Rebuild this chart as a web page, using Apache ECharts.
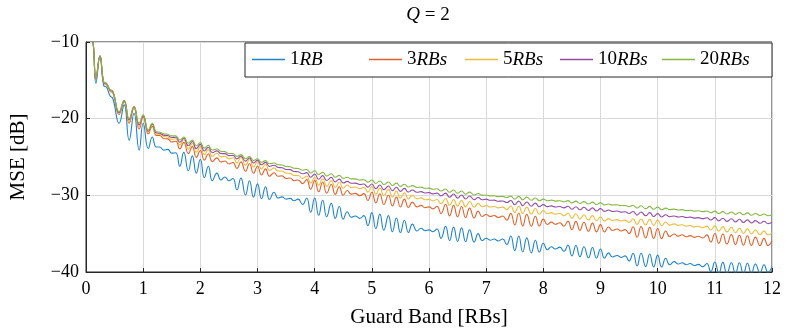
<!DOCTYPE html>
<html>
<head>
<meta charset="utf-8">
<script src="https://cdn.jsdelivr.net/npm/echarts@6/dist/echarts.min.js"></script>
<style>
  html, body { margin: 0; padding: 0; background: #fff; }
  #chart { width: 789px; height: 334px; }
</style>
</head>
<body>
<div id="chart"></div>
<script>
// guard band positions (RBs)
var guardBand = [
  0, 0.07, 0.13, 0.174, 0.244, 0.31, 0.36, 0.42, 0.47, 0.58, 0.667, 0.755, 0.84, 0.93, 1.0, 1.09, 1.16, 1.23,
  1.29, 1.36, 1.43, 1.5, 1.57, 1.64, 1.71, 1.79, 1.86, 1.93,
  2, 2.07, 2.14, 2.21, 2.29, 2.36, 2.43, 2.5, 2.57, 2.64, 2.71, 2.79, 2.86, 2.93,
  3, 3.07, 3.14, 3.21, 3.29, 3.36, 3.43, 3.5, 3.57, 3.64, 3.71, 3.79, 3.86, 3.93,
  4, 4.07, 4.14, 4.21, 4.29, 4.36, 4.43, 4.5, 4.57, 4.64, 4.71, 4.79, 4.86, 4.93,
  5, 5.07, 5.14, 5.21, 5.29, 5.36, 5.43, 5.5, 5.57, 5.64, 5.71, 5.79, 5.86, 5.93,
  6, 6.07, 6.14, 6.21, 6.29, 6.36, 6.43, 6.5, 6.57, 6.64, 6.71, 6.79, 6.86, 6.93,
  7, 7.07, 7.14, 7.21, 7.29, 7.36, 7.43, 7.5, 7.57, 7.64, 7.71, 7.79, 7.86, 7.93,
  8, 8.07, 8.14, 8.21, 8.29, 8.36, 8.43, 8.5, 8.57, 8.64, 8.71, 8.79, 8.86, 8.93,
  9, 9.07, 9.14, 9.21, 9.29, 9.36, 9.43, 9.5, 9.57, 9.64, 9.71, 9.79, 9.86, 9.93,
  10, 10.07, 10.14, 10.21, 10.29, 10.36, 10.43, 10.5, 10.57, 10.64, 10.71, 10.79, 10.86, 10.93,
  11, 11.07, 11.14, 11.21, 11.29, 11.36, 11.43, 11.5, 11.57, 11.64, 11.71, 11.79, 11.86, 11.93,
  12
];

// MSE [dB], 1 RB
var mse1 = [
  -3, -6.5, -10.5, -15.4, -11.9, -15.7, -15.9, -17.0, -17.4, -20.6, -18.2, -22.8, -19.3, -24.1, -20.6, -23.9, -22.4, -23.7,
  -23.7, -24.1, -24.0, -24.5, -24.45, -26.2, -24.4, -26.8, -24.85, -27.1,
  -25.3, -27.7, -26.2, -28.1, -27.1, -28.0, -27.6, -28.1, -27.8, -29.3, -27.75, -29.95, -28.1, -30.25,
  -28.5, -30.45, -28.9, -30.55, -29.6, -30.35, -30.2, -30.5, -30.4, -30.7, -30.5, -31.2, -30.35, -32.2,
  -30.35, -32.6, -30.65, -32.8, -31.05, -33.0, -31.45, -33.1, -32.15, -32.85, -32.7, -33.0, -32.65, -33.95,
  -32.25, -34.35, -32.45, -34.55, -32.65, -34.75, -32.95, -34.85, -33.25, -34.85, -33.75, -34.65, -34.3, -34.6,
  -34.5, -34.75, -34.4, -35.6, -34.05, -35.9, -34.15, -36.0, -34.25, -36.05, -34.5, -36.1, -35.0, -35.9,
  -35.6, -35.85, -35.7, -35.95, -35.7, -36.4, -35.3, -37.2, -35.3, -37.4, -35.55, -37.5, -35.85, -37.4,
  -36.25, -37.1, -36.7, -37.0, -36.75, -37.3, -36.5, -37.9, -36.55, -38.0, -36.7, -38.15, -36.8, -38.2,
  -37.0, -38.2, -37.5, -38.05, -37.85, -38.1, -37.9, -38.55, -37.55, -39.2, -37.55, -39.3, -37.65, -39.35,
  -37.8, -39.35, -38.2, -39.05, -38.65, -38.95, -38.8, -39.05, -38.9, -39.15, -39.0, -39.3, -38.9, -39.95,
  -38.7, -40.15, -38.75, -40.2, -38.8, -40.2, -38.8, -40.25, -38.85, -40.2, -38.95, -40.15, -39.05, -40.05,
  -39.3
];

// 3 RBs
var mse3 = [
  -3, -6.5, -10.5, -14.9, -11.85, -15.35, -15.55, -16.4, -16.65, -19.45, -17.8, -20.6, -18.65, -21.35, -19.8, -22.0, -21.0, -22.2,
  -22.20, -22.61, -22.63, -23.05, -22.94, -23.94, -23.09, -24.55, -23.65, -25.05,
  -24.15, -25.41, -24.57, -25.61, -25.11, -25.66, -25.53, -25.91, -25.71, -26.50, -25.64, -26.86, -25.89, -27.12,
  -26.20, -27.34, -26.55, -27.52, -27.05, -27.51, -27.46, -27.80, -27.74, -28.09, -28.00, -28.47, -27.95, -29.21,
  -28.05, -29.54, -28.29, -29.71, -28.58, -29.88, -28.89, -29.99, -29.37, -29.84, -29.74, -30.04, -29.78, -30.67,
  -29.60, -30.99, -29.79, -31.19, -29.99, -31.38, -30.24, -31.52, -30.50, -31.58, -30.88, -31.51, -31.31, -31.61,
  -31.50, -31.77, -31.42, -32.37, -31.17, -32.68, -31.31, -32.82, -31.45, -32.92, -31.67, -32.95, -32.06, -32.77,
  -32.50, -32.76, -32.63, -32.89, -32.70, -33.24, -32.35, -33.85, -32.31, -33.98, -32.48, -34.03, -32.73, -34.00,
  -33.10, -33.80, -33.49, -33.77, -33.57, -34.03, -33.36, -34.46, -33.40, -34.57, -33.51, -34.69, -33.63, -34.76,
  -33.82, -34.78, -34.14, -34.58, -34.40, -34.65, -34.47, -34.99, -34.10, -35.47, -34.08, -35.57, -34.18, -35.63,
  -34.32, -35.65, -34.65, -35.39, -35.04, -35.32, -35.15, -35.40, -35.25, -35.48, -35.33, -35.57, -35.16, -36.09,
  -34.97, -36.27, -35.05, -36.35, -35.12, -36.42, -35.20, -36.50, -35.28, -36.54, -35.45, -36.56, -35.61, -36.55,
  -35.93
];

// 5 RBs
var mse5 = [
  -3, -6.5, -10.5, -14.8, -11.85, -15.3, -15.5, -16.3, -16.55, -19.3, -17.7, -20.35, -18.55, -21.0, -19.65, -21.8, -20.8, -22.0,
  -22.05, -22.32, -22.40, -22.70, -22.62, -23.44, -22.75, -23.97, -23.23, -24.39,
  -23.65, -24.70, -24.04, -24.91, -24.52, -24.99, -24.91, -25.24, -25.09, -25.76, -25.07, -26.08, -25.30, -26.33,
  -25.59, -26.56, -25.94, -26.77, -26.42, -26.83, -26.83, -27.12, -27.13, -27.42, -27.41, -27.79, -27.48, -28.40,
  -27.65, -28.69, -27.84, -28.83, -28.06, -28.97, -28.30, -29.07, -28.65, -28.99, -28.92, -29.13, -28.96, -29.58,
  -28.85, -29.84, -29.04, -30.03, -29.22, -30.21, -29.45, -30.36, -29.68, -30.46, -30.00, -30.46, -30.33, -30.58,
  -30.53, -30.72, -30.54, -31.09, -30.42, -31.29, -30.54, -31.41, -30.64, -31.50, -30.81, -31.55, -31.05, -31.49,
  -31.33, -31.52, -31.45, -31.64, -31.54, -31.86, -31.39, -32.25, -31.40, -32.37, -31.54, -32.44, -31.72, -32.47,
  -31.97, -32.41, -32.25, -32.47, -32.36, -32.66, -32.31, -32.97, -32.40, -33.10, -32.53, -33.22, -32.65, -33.32,
  -32.83, -33.36, -33.04, -33.29, -33.17, -33.34, -33.24, -33.53, -33.06, -33.81, -33.08, -33.87, -33.14, -33.93,
  -33.24, -33.97, -33.47, -33.89, -33.72, -33.92, -33.83, -34.02, -33.93, -34.12, -34.03, -34.22, -34.02, -34.52,
  -33.98, -34.67, -34.08, -34.77, -34.18, -34.87, -34.28, -34.97, -34.38, -35.04, -34.53, -35.12, -34.67, -35.18,
  -34.86
];

// 10 RBs
var mse10 = [
  -3, -6.5, -10.5, -14.75, -11.8, -15.25, -15.45, -16.25, -16.45, -19.2, -17.65, -20.15, -18.45, -20.8, -19.6, -21.65, -20.7, -21.85,
  -21.90, -22.15, -22.20, -22.46, -22.42, -23.08, -22.56, -23.54, -22.98, -23.91,
  -23.35, -24.21, -23.72, -24.44, -24.20, -24.55, -24.56, -24.82, -24.79, -25.24, -24.88, -25.54, -25.12, -25.79,
  -25.41, -26.02, -25.70, -26.23, -26.07, -26.36, -26.40, -26.63, -26.65, -26.89, -26.92, -27.19, -27.04, -27.64,
  -27.23, -27.90, -27.43, -28.07, -27.66, -28.24, -27.88, -28.39, -28.18, -28.42, -28.41, -28.59, -28.52, -28.93,
  -28.53, -29.13, -28.66, -29.26, -28.79, -29.39, -28.95, -29.49, -29.09, -29.57, -29.30, -29.59, -29.52, -29.69,
  -29.65, -29.81, -29.71, -30.07, -29.71, -30.25, -29.83, -30.37, -29.95, -30.48, -30.09, -30.56, -30.29, -30.57,
  -30.50, -30.65, -30.62, -30.77, -30.73, -30.94, -30.68, -31.22, -30.73, -31.34, -30.86, -31.42, -31.01, -31.49,
  -31.21, -31.47, -31.38, -31.52, -31.46, -31.63, -31.42, -31.82, -31.48, -31.89, -31.56, -31.97, -31.63, -32.04,
  -31.74, -32.09, -31.92, -32.10, -32.04, -32.19, -32.15, -32.36, -32.10, -32.58, -32.17, -32.67, -32.26, -32.77,
  -32.38, -32.83, -32.53, -32.79, -32.69, -32.83, -32.76, -32.90, -32.84, -32.97, -32.91, -33.04, -32.92, -33.22,
  -32.91, -33.33, -32.98, -33.40, -33.05, -33.47, -33.12, -33.54, -33.20, -33.60, -33.30, -33.65, -33.39, -33.70,
  -33.52
];

// 20 RBs
var mse20 = [
  -3, -6.5, -10.5, -14.7, -11.8, -15.2, -15.4, -16.2, -16.4, -19.1, -17.6, -20.0, -18.4, -20.6, -19.5, -21.5, -20.6, -21.7,
  -21.76, -21.97, -22.03, -22.25, -22.24, -22.79, -22.40, -23.20, -22.78, -23.54,
  -23.12, -23.84, -23.49, -24.09, -23.95, -24.25, -24.30, -24.54, -24.55, -24.92, -24.69, -25.21, -24.94, -25.47,
  -25.22, -25.69, -25.47, -25.88, -25.78, -26.01, -26.05, -26.24, -26.27, -26.47, -26.50, -26.72, -26.63, -27.09,
  -26.80, -27.31, -26.99, -27.48, -27.19, -27.64, -27.40, -27.79, -27.65, -27.85, -27.85, -28.00, -27.96, -28.28,
  -28.00, -28.46, -28.13, -28.59, -28.26, -28.72, -28.41, -28.83, -28.55, -28.92, -28.74, -28.97, -28.93, -29.08,
  -29.06, -29.20, -29.15, -29.43, -29.18, -29.60, -29.31, -29.73, -29.43, -29.85, -29.58, -29.95, -29.77, -30.00,
  -29.96, -30.08, -30.05, -30.17, -30.13, -30.29, -30.10, -30.50, -30.14, -30.59, -30.24, -30.65, -30.35, -30.70,
  -30.50, -30.70, -30.63, -30.75, -30.70, -30.84, -30.69, -30.99, -30.75, -31.06, -30.82, -31.13, -30.89, -31.19,
  -30.98, -31.24, -31.13, -31.27, -31.23, -31.35, -31.32, -31.48, -31.30, -31.66, -31.36, -31.74, -31.44, -31.82,
  -31.54, -31.88, -31.67, -31.87, -31.80, -31.92, -31.87, -31.99, -31.95, -32.06, -32.02, -32.13, -32.05, -32.28,
  -32.06, -32.37, -32.12, -32.43, -32.17, -32.48, -32.23, -32.54, -32.29, -32.59, -32.37, -32.63, -32.44, -32.67,
  -32.54
];

var seriesNames = ['1RB', '3RBs', '5RBs', '10RBs', '20RBs'];
var seriesValues = [mse1, mse3, mse5, mse10, mse20];
var colors = ['#1f84cc', '#e0622c', '#efbb3a', '#934aa5', '#84b842'];
var xTicks = [0, 12, 1];      // min, max, step
var yTicks = [-40, -10, 10];  // min, max, step
var legendLeft = [252, 369, 465, 560, 662];

seriesValues.forEach(function (arr, k) {
  if (arr.length !== guardBand.length) {
    throw new Error('length mismatch ' + seriesNames[k] + ': ' + arr.length + ' vs ' + guardBand.length);
  }
});

var font = 'Liberation Serif';
var ink = '#262626';

var myChart = echarts.init(document.getElementById('chart'), null, { renderer: 'canvas' });

var series = seriesNames.map(function (name, k) {
  return {
    name: name,
    type: 'line',
    data: guardBand.map(function (x, i) { return [x, seriesValues[k][i]]; }),
    showSymbol: false,
    symbol: 'none',
    smooth: 0.5,
    clip: true,
    color: colors[k],
    lineStyle: { width: 1.1, color: colors[k] },
    z: 2 + k
  };
});

var legends = seriesNames.map(function (name, k) {
  return {
    data: [name],
    left: legendLeft[k],
    top: 50,
    padding: 0,
    icon: 'rect',
    itemWidth: 33,
    itemHeight: 1.5,
    itemGap: 0,
    z: 10,
    formatter: function (n) {
      return n.replace(/^(\d+)(.*)$/, '$1{i|$2}');
    },
    textStyle: {
      fontFamily: font,
      fontSize: 19,
      color: '#000',
      rich: {
        i: { fontFamily: font, fontSize: 19, fontStyle: 'italic', color: '#000' }
      }
    }
  };
});

option = {
  animation: false,
  backgroundColor: '#fff',
  grid: {
    left: 83,
    right: 17,
    top: 42,
    bottom: 62,
    show: true,
    borderColor: ink,
    borderWidth: 1
  },
  legend: legends,
  graphic: [{
    type: 'rect',
    z: 8,
    shape: { x: 245, y: 43, width: 527, height: 34 },
    style: { fill: '#fff', stroke: ink, lineWidth: 1 }
  }, {
    type: 'text',
    x: 428,
    y: 15,
    style: {
      text: '{i|Q} = 2',
      align: 'center',
      verticalAlign: 'middle',
      fontFamily: font,
      fontSize: 19,
      fill: '#000',
      rich: { i: { fontFamily: font, fontSize: 19, fontStyle: 'italic', fill: '#000' } }
    }
  }],
  xAxis: {
    type: 'value',
    min: xTicks[0],
    max: xTicks[1],
    interval: xTicks[2],
    name: 'Guard Band [RBs]',
    nameLocation: 'middle',
    nameGap: 35,
    nameTextStyle: { fontFamily: font, fontSize: 21, color: '#000' },
    axisLine: { show: true, lineStyle: { color: ink, width: 1 } },
    axisTick: { show: true, inside: true, length: 4, lineStyle: { color: ink } },
    axisLabel: { fontFamily: font, fontSize: 18, color: '#000', margin: 8 },
    splitLine: { show: true, lineStyle: { color: '#d9d9d9', width: 1 } }
  },
  yAxis: {
    type: 'value',
    min: yTicks[0],
    max: yTicks[1],
    interval: yTicks[2],
    name: 'MSE [dB]',
    nameLocation: 'middle',
    nameGap: 57,
    nameTextStyle: { fontFamily: font, fontSize: 21, color: '#000' },
    axisLine: { show: true, lineStyle: { color: ink, width: 1 } },
    axisTick: { show: true, inside: true, length: 4, lineStyle: { color: ink } },
    axisLabel: {
      fontFamily: font,
      fontSize: 18,
      color: '#000',
      margin: 7,
      formatter: function (v) { return (v < 0 ? '\u2212' : '') + Math.abs(v); }
    },
    splitLine: { show: true, lineStyle: { color: '#d9d9d9', width: 1 } }
  },
  series: series
};

myChart.setOption(option);
window.addEventListener('resize', function () {
  myChart.resize();
});
</script>
</body>
</html>
